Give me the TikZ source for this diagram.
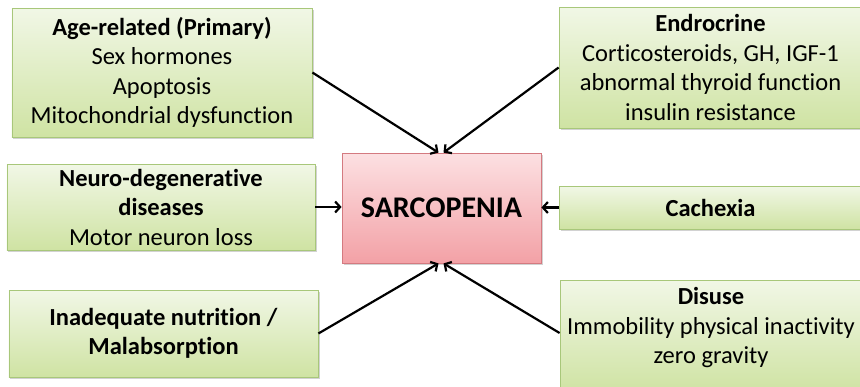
\documentclass[tikz,border=0pt]{standalone}
\usepackage{fontspec}
\setmainfont{Carlito}[Ligatures=NoCommon]
\usetikzlibrary{arrows.meta,shadows}
\definecolor{gtop}{HTML}{F1F7E6}
\definecolor{gbot}{HTML}{CFE3A3}
\definecolor{gline}{HTML}{A8C77A}
\definecolor{ptop}{HTML}{FCE0E2}
\definecolor{pbot}{HTML}{F3A1A6}
\definecolor{pline}{HTML}{D47A80}
\tikzset{
  greenbox/.style={draw=gline, line width=0.8bp, top color=gtop, bottom color=gbot,
    drop shadow={shadow xshift=1.5bp, shadow yshift=-2bp, fill=black!35, opacity=0.5},
    inner sep=0pt, align=center, font=\fontsize{24.5bp}{29.5bp}\selectfont},
  pinkbox/.style={draw=pline, line width=0.8bp, top color=ptop, bottom color=pbot,
    drop shadow={shadow xshift=1.5bp, shadow yshift=-2bp, fill=black!35, opacity=0.5},
    inner sep=0pt, align=center, font=\fontsize{30bp}{35bp}\selectfont\bfseries},
  txt/.style={inner sep=0pt, align=center, font=\fontsize{24.5bp}{29.5bp}\selectfont},
  arr/.style={line width=2.2bp, -{Straight Barb[length=5bp,width=11bp,line width=2.2bp]}}
}
\begin{document}
\begin{tikzpicture}[x=1bp,y=-1bp]
\useasboundingbox (0,0) rectangle (860,386);
\node[greenbox, minimum width=300bp, minimum height=129bp] (age) at (162,72.5)
  {\textbf{Age-related (Primary)}\\Sex hormones\\Apoptosis\\Mitochondrial dysfunction};
\node[greenbox, minimum width=303bp, minimum height=121bp] (endo) at (710.5,67.5)
  {\textbf{Endrocrine}\\Corticosteroids, GH, IGF-1\\abnormal thyroid function\\insulin resistance};
\node[greenbox, minimum width=308bp, minimum height=86bp] (neuro) at (161,207)
  {\textbf{Neuro-degenerative}\\\textbf{diseases}\\Motor neuron loss};
\node[greenbox, minimum width=303bp, minimum height=43bp] (cach) at (710.5,207.5)
  {\textbf{Cachexia}};
\node[greenbox, minimum width=309bp, minimum height=87bp] (inad) at (163.5,333.5)
  {\textbf{Inadequate nutrition /}\\\textbf{Malabsorption}};
\node[greenbox, minimum width=303bp, minimum height=112bp] (disuse) at (711.5,336) {};
\node[txt] (disuset) at (711,328)
  {\textbf{Disuse}\\Immobility physical inactivity\\zero gravity};
\node[pinkbox, minimum width=199bp, minimum height=110bp] (sarc) at (441.5,208) {SARCOPENIA};
\draw[arr] (age.east) -- ([xshift=-3bp]sarc.north);
\draw[arr] (endo.west) -- ([xshift=2bp]sarc.north);
\draw[arr] (neuro.east) -- (neuro.east -| sarc.west);
\draw[arr] (cach.west) -- (cach.west -| sarc.east);
\draw[arr] (inad.east) -- ([xshift=-3bp]sarc.south);
\draw[arr] ([yshift=3bp]disuse.west) -- ([xshift=2bp]sarc.south);
\end{tikzpicture}
\end{document}
